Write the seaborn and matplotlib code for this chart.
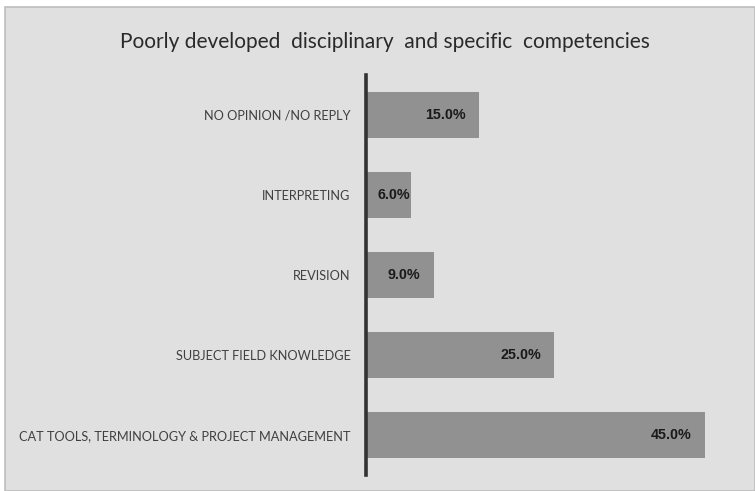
import matplotlib
matplotlib.use("Agg")
import matplotlib.pyplot as plt
from matplotlib.patches import Rectangle
import seaborn as sns
import pandas as pd

categories = [
    "NO OPINION /NO REPLY",
    "INTERPRETING",
    "REVISION",
    "SUBJECT FIELD KNOWLEDGE",
    "CAT TOOLS, TERMINOLOGY & PROJECT MANAGEMENT",
]
values = [15.0, 6.0, 9.0, 25.0, 45.0]
title = "Poorly developed  disciplinary  and specific  competencies"

df = pd.DataFrame({"category": categories, "value": values})

sns.set_theme(style="white")
plt.rcParams["font.family"] = ["Lato", "DejaVu Sans"]

W, H = 755, 491
fig = plt.figure(figsize=(W / 100, H / 100), dpi=100)
fig.patch.set_facecolor("white")

# chart area panel with thin border
fig.add_artist(Rectangle((5 / W, 0), 1 - 5 / W, 1 - 7 / H, transform=fig.transFigure,
                         facecolor="#e0e0e0", edgecolor="#bdbdbd", linewidth=1.2, zorder=0))

left, right = 366 / W, 742.5 / W
bottom, top = 1 - 475 / H, 1 - 75 / H
ax = fig.add_axes([left, bottom, right - left, top - bottom])
ax.set_facecolor("none")

sns.barplot(data=df, x="value", y="category", orient="h", color="#919191",
            saturation=1, width=0.58, linewidth=0, ax=ax)

ax.set_xlim(0, 50)
ax.set_ylim(4.5, -0.5)
ax.set_xlabel("")
ax.set_ylabel("")
ax.set_xticks([])
for s in ["top", "right", "bottom"]:
    ax.spines[s].set_visible(False)
ax.spines["left"].set_color("#333333")
ax.spines["left"].set_linewidth(2.6)
ax.tick_params(axis="y", length=0, pad=11, labelsize=9.2, labelcolor="#404040")
for lbl in ax.get_yticklabels():
    lbl.set_fontfamily(["Lato", "DejaVu Sans"])

# value labels inside the bar ends
for i, v in enumerate(values):
    txt = f"{v:.1f}%"
    if v < 8:
        ax.annotate(txt, (0, i), xytext=(8, 0), textcoords="offset points",
                    ha="left", va="center", fontsize=10.3, fontweight="bold",
                    color="#1a1a1a", fontfamily="Liberation Sans")
    else:
        ax.annotate(txt, (v, i), xytext=(-9.5, 0), textcoords="offset points",
                    ha="right", va="center", fontsize=10.3, fontweight="bold",
                    color="#1a1a1a", fontfamily="Liberation Sans")

fig.text(385 / W, 1 - 42 / H, title, ha="center", va="center",
         fontsize=15, color="#2a2a2a", fontfamily=["Lato", "DejaVu Sans"])

fig.savefig("out.png", dpi=100)
